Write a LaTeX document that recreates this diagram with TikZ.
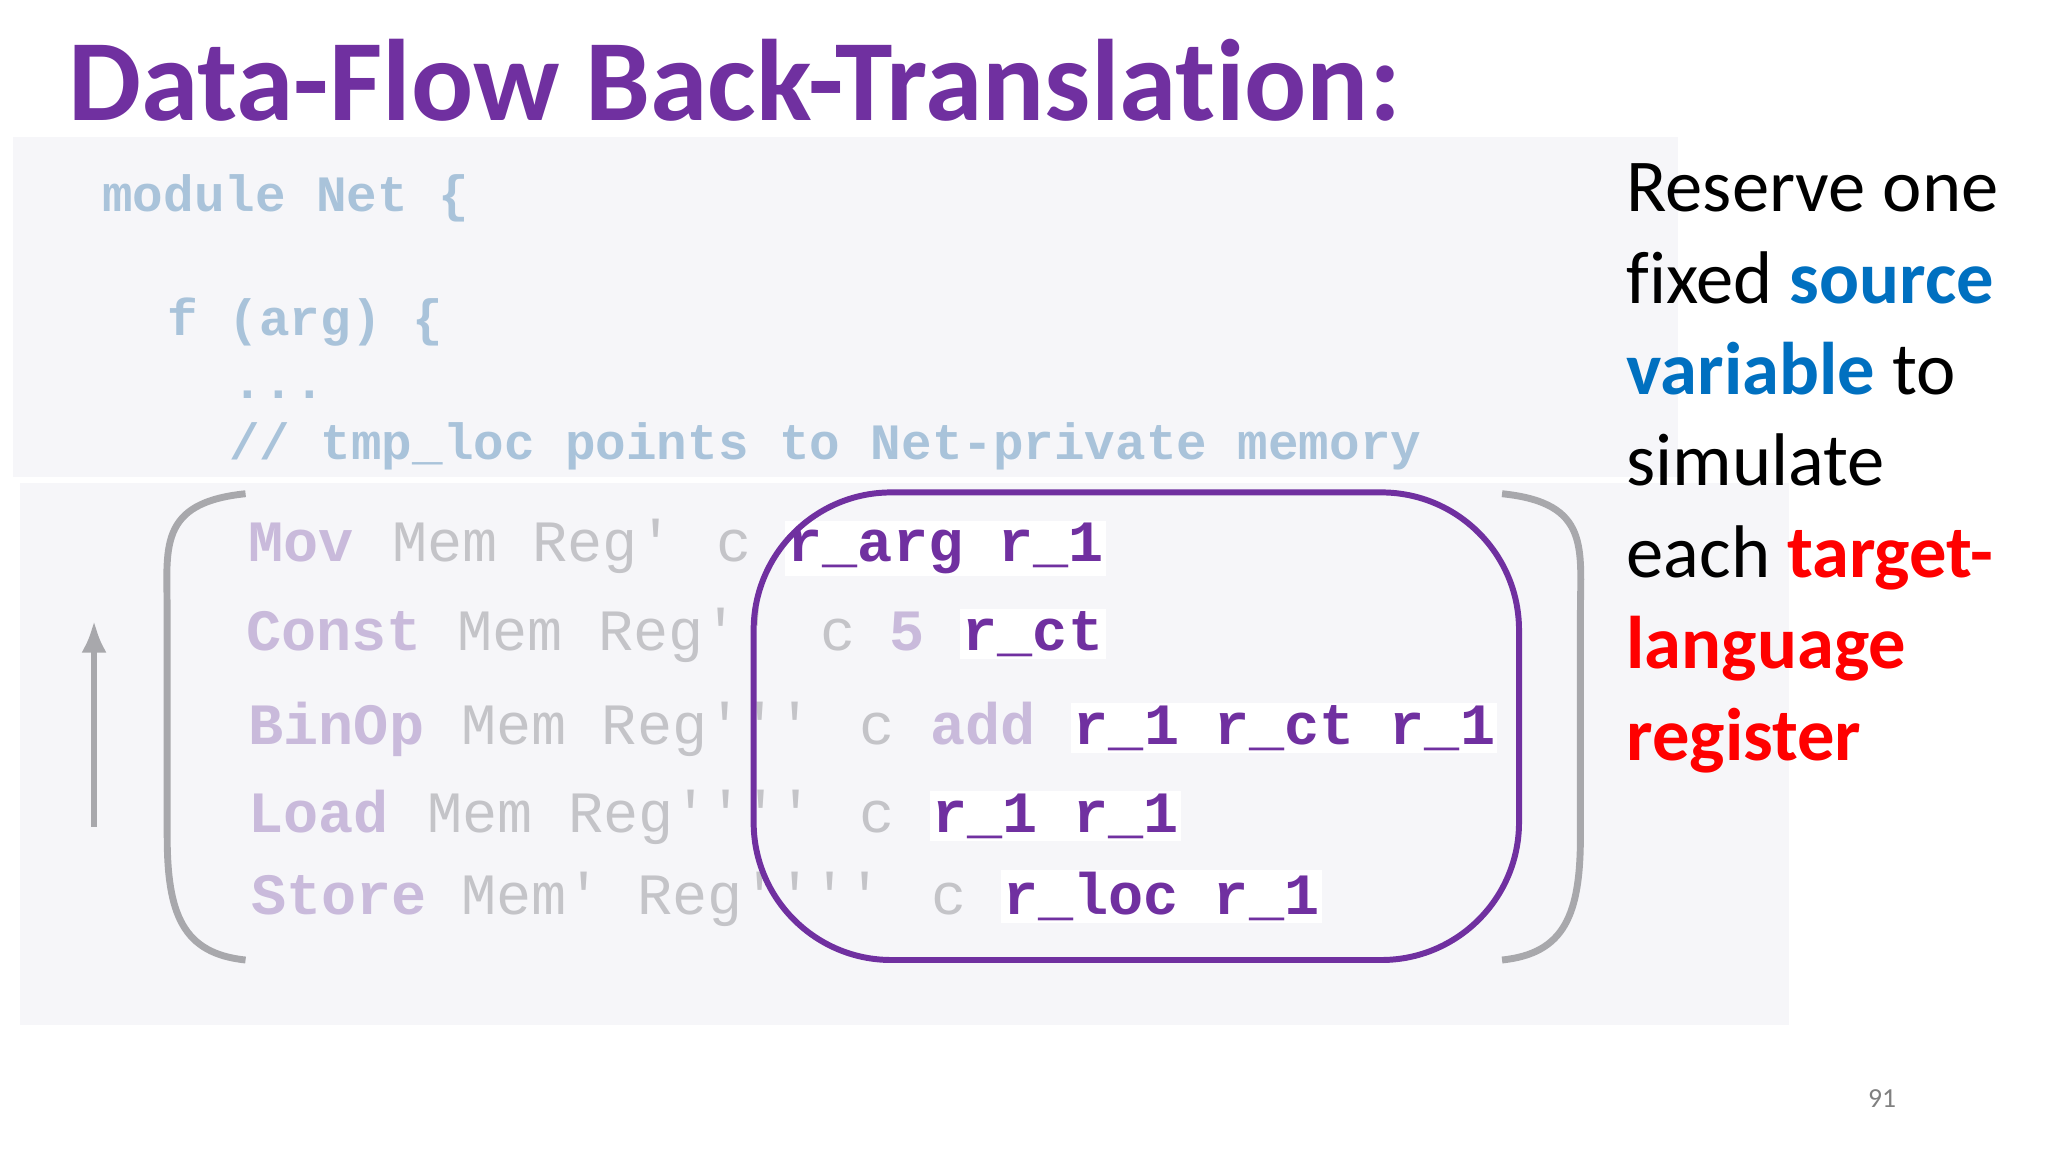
\documentclass[tikz,border=0pt]{standalone}
\usepackage{fontspec}
\usetikzlibrary{arrows.meta}
\setmainfont{Carlito}[Ligatures=NoCommon]
\newfontfamily\codefont{Liberation Mono}
\definecolor{ttl}{HTML}{7030A0}
\definecolor{lav}{HTML}{C9BADB}
\definecolor{fg}{HTML}{C4C4C8}
\definecolor{mb}{HTML}{A9C3DA}
\definecolor{panel}{HTML}{F6F6F9}
\definecolor{brk}{HTML}{A8A8AC}
\definecolor{sblue}{HTML}{0070C0}
\definecolor{sred}{HTML}{FF0000}
\tikzset{
  t/.style={anchor=base west,inner sep=0pt},
  code/.style={t,font=\codefont\fontsize{25.5}{28}\selectfont},
  kw/.style={code,text=lav,font=\codefont\bfseries\fontsize{25.5}{28}\selectfont},
  gr/.style={code,text=fg},
  pu/.style={code,text=ttl,font=\codefont\bfseries\fontsize{25.5}{28}\selectfont,fill=white,inner sep=1pt},
  mod/.style={code,text=mb,font=\codefont\bfseries\fontsize{22.2}{26}\selectfont},
  side/.style={t,font=\fontsize{32.5}{36}\selectfont},
}
\begin{document}
\begin{tikzpicture}[x=0.02cm,y=-0.02cm]
\useasboundingbox (0,0) rectangle (1568,882);
\fill[white] (0,0) rectangle (1568,882);
\fill[panel] (10,105) rectangle (1285,365);
\fill[panel] (15,370) rectangle (1370,785);
\node[t,text=ttl,font=\bfseries\fontsize{50.5}{55}\selectfont] (title) at (52,92) {Data-Flow Back-Translation:};
% module lines
\node[mod] (m1) at (78,162) {module Net \{};
\node[mod] (m2) at (128,257) {f (arg) \{};
\node[mod] (m3) at (178,305) {...};
\node[mod] (m4) at (175,352) {// tmp\_loc points to Net-private memory};
% brackets
\draw[brk,line width=3pt] (188,378) .. controls (120,385) and (128,420) .. (128,470) -- (128,640) .. controls (128,700) and (140,730) .. (188,735);
\draw[brk,line width=3pt] (1150,378) .. controls (1218,385) and (1210,420) .. (1210,470) -- (1210,640) .. controls (1210,700) and (1198,730) .. (1150,735);
% arrow
\coordinate (a1) at (72,633);
\coordinate (a2) at (72,475);
\draw[brk,line width=3pt,-{Latex[length=14pt,width=11pt]}] (a1) -- (a2);
% rows
\node[kw] (r1a) at (190,430) {Mov};
\node[gr] (r1b) at (300,430) {Mem Reg'};
\node[gr] (r1c) at (548,430) {c};
\node[pu] (r1d) at (601,430) {r\_arg r\_1};
\node[kw] (r2a) at (188,498) {Const};
\node[gr] (r2b) at (350,498) {Mem Reg''};
\node[gr] (r2c) at (628,498) {c};
\node[kw] (r2d) at (681,498) {5};
\node[pu] (r2e) at (735,498) {r\_ct};
\node[kw] (r3a) at (190,570) {BinOp};
\node[gr] (r3b) at (353,570) {Mem Reg'''};
\node[gr] (r3c) at (658,570) {c};
\node[kw] (r3d) at (712,570) {add};
\node[pu] (r3e) at (820,570) {r\_1 r\_ct r\_1};
\node[kw] (r4a) at (190,637) {Load};
\node[gr] (r4b) at (327,637) {Mem Reg''''};
\node[gr] (r4c) at (658,637) {c};
\node[pu] (r4d) at (712,637) {r\_1 r\_1};
\node[kw] (r5a) at (192,700) {Store};
\node[gr] (r5b) at (353,700) {Mem' Reg''''};
\node[gr] (r5c) at (713,700) {c};
\node[pu] (r5d) at (766,700) {r\_loc r\_1};
% purple box
\draw[ttl,line width=2.6pt,rounded corners=60] (577,377) rectangle (1163,735);
% side text
\node[side] (s1) at (1245,162) {Reserve one};
\node[side] (s2) at (1245,232) {fixed \textcolor{sblue}{\bfseries source}};
\node[side] (s3) at (1245,302) {\textcolor{sblue}{\bfseries variable} to};
\node[side] (s4) at (1245,372) {simulate};
\node[side] (s5) at (1245,442) {each \textcolor{sred}{\bfseries target-}};
\node[side] (s6) at (1245,512) {\textcolor{sred}{\bfseries language}};
\node[side] (s7) at (1245,582) {\textcolor{sred}{\bfseries register}};
\node[t,text=gray,font=\fontsize{12}{14}\selectfont] (pg) at (1430,848) {91};
\end{tikzpicture}
\end{document}
